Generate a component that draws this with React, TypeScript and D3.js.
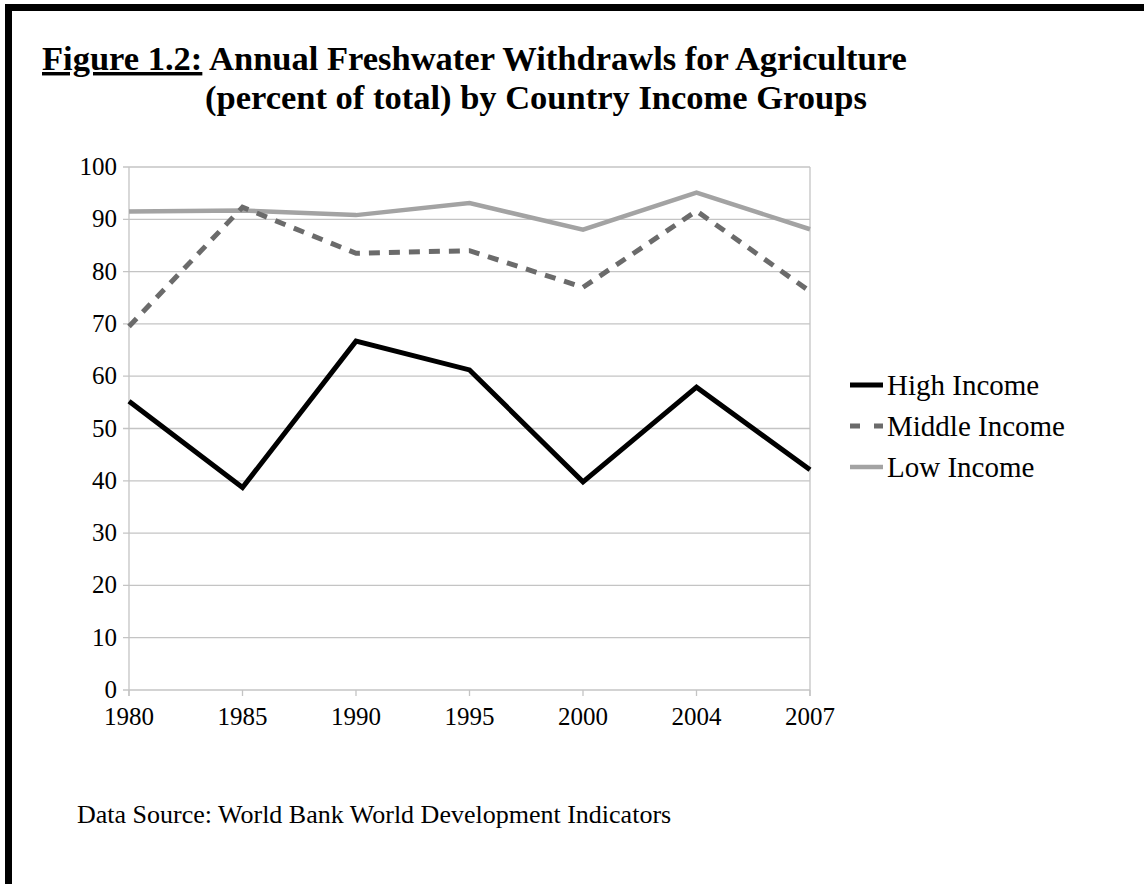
import React from "react";
import * as d3 from "d3";

const years = ["1980", "1985", "1990", "1995", "2000", "2004", "2007"];
const highIncome = [55.2, 38.7, 66.7, 61.2, 39.8, 57.9, 42.1];
const middleIncome = [69.5, 92.3, 83.5, 84.0, 77.0, 91.6, 76.2];
const lowIncome = [91.5, 91.7, 90.8, 93.1, 88.0, 95.1, 88.1];
const yTicks = [0, 10, 20, 30, 40, 50, 60, 70, 80, 90, 100];

const seriesList = [
  { name: "High Income", values: highIncome, color: "#000000", width: 5, dash: "" },
  { name: "Middle Income", values: middleIncome, color: "#6b6b6b", width: 5, dash: "11,9" },
  { name: "Low Income", values: lowIncome, color: "#a3a3a3", width: 4.5, dash: "" },
];

const W = 1144;
const H = 884;
const plot = { left: 129, right: 810, top: 167, bottom: 690 };

export default function App() {
  const x = d3.scalePoint<string>().domain(years).range([plot.left, plot.right]);
  const y = d3.scaleLinear().domain([0, 100]).range([plot.bottom, plot.top]);
  const line = d3
    .line<number>()
    .x((_, i) => x(years[i]) as number)
    .y((v) => y(v));

  const serif = "'Liberation Serif', 'Times New Roman', serif";
  const grid = "#c4c4c4";

  return (
    <svg
      width={W}
      height={H}
      style={{ position: "absolute", left: 0, top: 0, background: "#fff" }}
      fontFamily={serif}
    >
      <rect x={0} y={0} width={W} height={H} fill="#fff" />
      {/* frame: top and left edges */}
      <rect x={5} y={4} width={W - 5} height={7} fill="#000" />
      <rect x={5} y={4} width={7} height={H - 4} fill="#000" />

      {/* title */}
      <text x={42} y={70} fontSize={34.5} fontWeight="bold" fill="#000">
        <tspan textDecoration="underline">Figure 1.2:</tspan>
        <tspan> Annual Freshwater Withdrawls for Agriculture</tspan>
      </text>
      <text x={205} y={109} fontSize={34.5} fontWeight="bold" fill="#000">
        (percent of total) by Country Income Groups
      </text>

      {/* gridlines */}
      {yTicks.map((t) => (
        <line key={t} x1={plot.left - 6} x2={plot.right} y1={y(t)} y2={y(t)} stroke={grid} strokeWidth={1.3} />
      ))}
      <line x1={plot.left} x2={plot.left} y1={plot.top} y2={plot.bottom + 6} stroke={grid} strokeWidth={1.3} />
      <line x1={plot.right} x2={plot.right} y1={plot.top} y2={plot.bottom + 6} stroke={grid} strokeWidth={1.3} />
      {years.map((yr) => (
        <line key={yr} x1={x(yr)} x2={x(yr)} y1={plot.bottom} y2={plot.bottom + 6} stroke={grid} strokeWidth={1.3} />
      ))}

      {/* y tick labels */}
      {yTicks.map((t) => (
        <text key={t} x={117} y={y(t) + 8} fontSize={25} textAnchor="end" fill="#000">
          {t}
        </text>
      ))}
      {/* x tick labels */}
      {years.map((yr) => (
        <text key={yr} x={x(yr)} y={725} fontSize={25} textAnchor="middle" fill="#000">
          {yr}
        </text>
      ))}

      {/* series */}
      {[...seriesList].reverse().map((s) => (
        <path
          key={s.name}
          d={line(s.values) || ""}
          fill="none"
          stroke={s.color}
          strokeWidth={s.width}
          strokeDasharray={s.dash || undefined}
          strokeLinejoin="miter"
        />
      ))}

      {/* legend */}
      {seriesList.map((s, i) => {
        const cy = 385 + i * 41;
        return (
          <g key={s.name}>
            <line
              x1={850}
              x2={883}
              y1={cy}
              y2={cy}
              stroke={s.color}
              strokeWidth={s.width}
              strokeDasharray={s.dash ? "10,14" : undefined}
            />
            <text x={887} y={cy + 10} fontSize={29} fill="#000">
              {s.name}
            </text>
          </g>
        );
      })}

      {/* source note */}
      <text x={77} y={823} fontSize={26} fill="#000">
        Data Source: World Bank World Development Indicators
      </text>
    </svg>
  );
}
